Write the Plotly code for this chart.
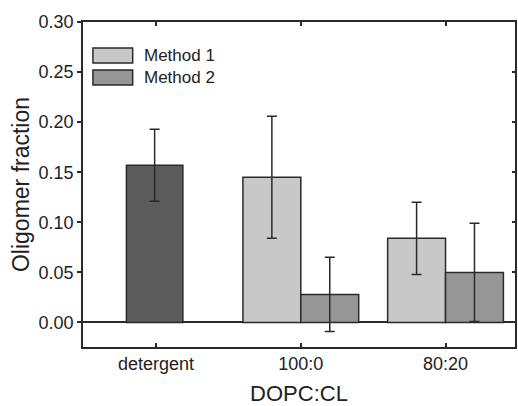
import plotly.graph_objects as go

categories = ["detergent", "100:0", "80:20"]
det_cat = ["detergent"]
det_val = [0.157]
det_err = [0.036]
lipid_cats = ["100:0", "80:20"]
m1_val = [0.145, 0.084]
m1_err = [0.061, 0.036]
m2_val = [0.028, 0.050]
m2_err = [0.037, 0.049]
series_names = ["Method 1", "Method 2"]
series_colors = ["#c8c8c8", "#969696"]

FONT = "Liberation Sans, Arial, sans-serif"
EDGE = "#2a2a2a"
err_style = dict(type="data", thickness=1.5, width=5, color=EDGE)
line_style = dict(color=EDGE, width=1.5)

fig = go.Figure()
fig.add_trace(go.Bar(x=det_cat, y=det_val, error_y=dict(array=det_err, **err_style),
                     marker=dict(color="#5c5c5c", line=line_style),
                     width=0.39, offset=-0.205, showlegend=False))
fig.add_trace(go.Bar(x=lipid_cats, y=m1_val, error_y=dict(array=m1_err, **err_style),
                     marker=dict(color=series_colors[0], line=line_style),
                     width=0.4, offset=-0.4, name=series_names[0], showlegend=False))
fig.add_trace(go.Bar(x=lipid_cats, y=m2_val, error_y=dict(array=m2_err, **err_style),
                     marker=dict(color=series_colors[1], line=line_style),
                     width=0.4, offset=0.0, name=series_names[1], showlegend=False))
# invisible trace for right-side axis ticks
fig.add_trace(go.Scatter(x=categories, y=[None, None, None], yaxis="y2",
                         showlegend=False, hoverinfo="skip"))

# legend drawn as swatches + labels (wide rectangular swatches like the reference)
sw_x0, sw_x1, txt_x = 0.023, 0.115, 0.136
sw_tops = [0.92, 0.852]
sw_h = 0.046
for name, col, top in zip(series_names, series_colors, sw_tops):
    fig.add_shape(type="rect", xref="paper", yref="paper",
                  x0=sw_x0, x1=sw_x1, y0=top - sw_h, y1=top,
                  fillcolor=col, line=dict(color=EDGE, width=1.5))
    fig.add_annotation(xref="paper", yref="paper", x=txt_x, y=top - sw_h / 2,
                       text=name, showarrow=False, xanchor="left", yanchor="middle",
                       font=dict(size=17, family=FONT, color="#222222"))

fig.update_layout(
    width=518, height=406,
    margin=dict(l=83, r=1, t=22, b=59),
    plot_bgcolor="white", paper_bgcolor="white",
    barmode="overlay",
    font=dict(family=FONT, color="#222222", size=18),
    xaxis=dict(type="category", categoryarray=categories, range=[-0.505, 2.48],
               showline=True, linecolor=EDGE, linewidth=1.5, mirror="ticks",
               ticks="inside", ticklen=4, tickwidth=1.5, tickcolor=EDGE,
               tickfont=dict(size=18), showgrid=False,
               title=dict(text="DOPC:CL", font=dict(size=22), standoff=12)),
    yaxis=dict(range=[-0.0245, 0.30], dtick=0.05, tickformat=".2f",
               showline=True, linecolor=EDGE, linewidth=1.5, mirror=True,
               ticks="outside", ticklen=4, tickwidth=1.5, tickcolor=EDGE,
               tickfont=dict(size=18), showgrid=False,
               zeroline=True, zerolinecolor=EDGE, zerolinewidth=1.5,
               title=dict(text="Oligomer fraction", font=dict(size=23), standoff=3)),
    yaxis2=dict(overlaying="y", side="right", matches="y", range=[-0.0245, 0.30],
                dtick=0.05, ticks="inside", ticklen=3, tickwidth=1.5,
                tickcolor=EDGE, showticklabels=False, showgrid=False,
                zeroline=False, showline=False),
    showlegend=False,
)

fig.write_html("out.html")
